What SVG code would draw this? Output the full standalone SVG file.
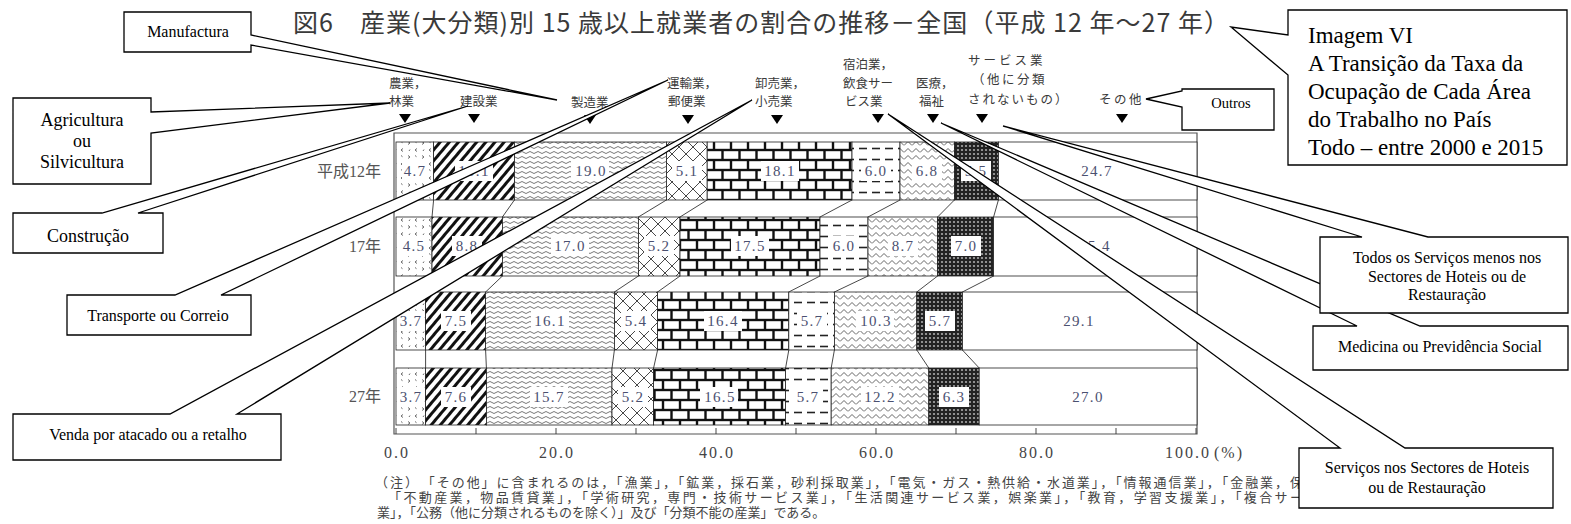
<svg xmlns="http://www.w3.org/2000/svg" width="1571" height="524" viewBox="0 0 1571 524">
<style>
.jp{font-family:"Noto Sans CJK JP","Noto Sans",sans-serif;fill:#3a3a3a}
.hd{font-size:12.5px}
.num{font-family:"Liberation Serif",serif;font-size:15px;fill:#4b5070;text-anchor:middle;letter-spacing:1.3px}
.ax{font-family:"Liberation Serif",serif;font-size:16px;fill:#444;text-anchor:middle;letter-spacing:2px}
.rl{font-family:"Liberation Serif","Noto Sans CJK JP",serif;font-size:16px;fill:#555;text-anchor:end}
.cell{stroke:#222;stroke-width:0.8}
.lb{fill:#fff}
.lnk{stroke:#333;stroke-width:0.9;fill:none}
.fr{stroke:#555;stroke-width:1.2;fill:none}
.co{fill:#fff;stroke:#000;stroke-width:1.3}
.ct{font-family:"Liberation Serif",serif;fill:#000;text-anchor:middle}
.tri{fill:#000}
.fn{font-size:13px;fill:#444}
</style>
<defs>
<pattern id="pAgri" width="14" height="14" patternUnits="userSpaceOnUse">
<rect width="14" height="14" fill="#fff"/>
<path d="M2 1.5l2 1.5-2 1.5M11 8.5l-2 1.5 2 1.5M9 1.5l1.5 1.2M4 9.5l-1 1.5" fill="none" stroke="#444" stroke-width="0.8"/>
</pattern>
<pattern id="pCons" width="7" height="7" patternUnits="userSpaceOnUse" patternTransform="rotate(40)">
<rect width="7" height="7" fill="#fff"/><rect width="3" height="7" fill="#111"/>
</pattern>
<pattern id="pMfg" width="8" height="5" patternUnits="userSpaceOnUse">
<rect width="8" height="5" fill="#fff"/><path d="M0 2.5q2-2 4 0t4 0" fill="none" stroke="#555" stroke-width="0.8"/>
</pattern>
<pattern id="pTrans" width="14" height="14" patternUnits="userSpaceOnUse">
<rect width="14" height="14" fill="#fff"/><path d="M0 0L14 14M14 0L0 14" stroke="#333" stroke-width="0.9"/>
</pattern>
<pattern id="pBrick" width="34" height="20" patternUnits="userSpaceOnUse">
<rect width="34" height="20" fill="#111"/>
<g fill="#fff"><rect x="1.2" y="1.2" width="14.6" height="7.6"/><rect x="18.2" y="1.2" width="14.6" height="7.6"/><rect x="9.7" y="11.2" width="14.6" height="7.6"/><rect x="26.7" y="11.2" width="7.3" height="7.6"/><rect x="0" y="11.2" width="7.3" height="7.6"/></g>
</pattern>
<pattern id="pHotel" width="13" height="11" patternUnits="userSpaceOnUse">
<rect width="13" height="11" fill="#fff"/><path d="M1 5.5h8" stroke="#222" stroke-width="1.6"/>
</pattern>
<pattern id="pMed" width="8" height="7" patternUnits="userSpaceOnUse">
<rect width="8" height="7" fill="#fff"/><path d="M0 5.5L4 1.5L8 5.5" fill="none" stroke="#555" stroke-width="0.9"/>
</pattern>
<pattern id="pSvc" width="4" height="4" patternUnits="userSpaceOnUse">
<rect width="4" height="4" fill="#222"/><circle cx="2" cy="2" r="1.1" fill="#aaa"/>
</pattern>
</defs>
<rect width="1571" height="524" fill="#fff"/>

<g id="title">
<text class="jp" x="293" y="32" font-size="25" fill="#333" textLength="936" lengthAdjust="spacing">図6　産業(大分類)別 15 歳以上就業者の割合の推移－全国（平成 12 年～27 年）</text>
</g>

<g id="header-labels" class="jp hd">
<text x="389" y="88">農業，</text><text x="389" y="106">林業</text>
<text x="460" y="106">建設業</text>
<text x="571" y="107">製造業</text>
<text x="667" y="88">運輸業，</text><text x="668" y="106">郵便業</text>
<text x="755" y="88">卸売業，</text><text x="755" y="106">小売業</text>
<text x="843" y="69">宿泊業，</text><text x="843" y="88">飲食サー</text><text x="845" y="106">ビス業</text>
<text x="916" y="88">医療，</text><text x="919" y="106">福祉</text>
<text x="968" y="65" letter-spacing="3">サービス業</text><text x="972" y="84" letter-spacing="2.5">（他に分類</text><text x="968" y="104" letter-spacing="2">されないもの）</text>
<text x="1099" y="104" letter-spacing="2.5">その他</text>
</g>
<g id="markers" class="tri">
<polygon points="399,114 411,114 405,123"/>
<polygon points="468,114 480,114 474,123"/>
<polygon points="584,115 596,115 590,124"/>
<polygon points="682,115 694,115 688,124"/>
<polygon points="771,115 783,115 777,124"/>
<polygon points="872,114 884,114 878,123"/>
<polygon points="927,114 939,114 933,123"/>
<polygon points="976,114 988,114 982,123"/>
<polygon points="1116,114 1128,114 1122,123"/>
</g>

<g id="chart-frame" class="fr">
<path d="M394 133H1197V434H394Z"/>
</g>

<g id="row-labels" class="rl">
<text x="381" y="177">平成12年</text>
<text x="381" y="252">17年</text>
<text x="381" y="402">27年</text>
</g>

<g id="row-2000" class="cell">
<rect x="396" y="142" width="37.6" height="58" fill="url(#pAgri)"/>
<rect x="433.6" y="142" width="80.8" height="58" fill="url(#pCons)"/>
<rect x="514.4" y="142" width="152" height="58" fill="url(#pMfg)"/>
<rect x="666.4" y="142" width="40.8" height="58" fill="url(#pTrans)"/>
<rect x="707.2" y="142" width="144.8" height="58" fill="url(#pBrick)"/>
<rect x="852" y="142" width="48" height="58" fill="url(#pHotel)"/>
<rect x="900" y="142" width="54.4" height="58" fill="url(#pMed)"/>
<rect x="954.4" y="142" width="44" height="58" fill="url(#pSvc)"/>
<rect x="998.4" y="142" width="198.6" height="58" fill="#fff"/>
</g>
<g id="row-2005" class="cell">
<rect x="396" y="217" width="36" height="59" fill="url(#pAgri)"/>
<rect x="432" y="217" width="70.4" height="59" fill="url(#pCons)"/>
<rect x="502.4" y="217" width="136" height="59" fill="url(#pMfg)"/>
<rect x="638.4" y="217" width="41.6" height="59" fill="url(#pTrans)"/>
<rect x="680" y="217" width="140" height="59" fill="url(#pBrick)"/>
<rect x="820" y="217" width="48" height="59" fill="url(#pHotel)"/>
<rect x="868" y="217" width="69.6" height="59" fill="url(#pMed)"/>
<rect x="937.6" y="217" width="56" height="59" fill="url(#pSvc)"/>
<rect x="993.6" y="217" width="203.4" height="59" fill="#fff"/>
</g>
<g id="row-2010" class="cell">
<rect x="396" y="292" width="29.6" height="58" fill="url(#pAgri)"/>
<rect x="425.6" y="292" width="60" height="58" fill="url(#pCons)"/>
<rect x="485.6" y="292" width="128.8" height="58" fill="url(#pMfg)"/>
<rect x="614.4" y="292" width="43.2" height="58" fill="url(#pTrans)"/>
<rect x="657.6" y="292" width="131.2" height="58" fill="url(#pBrick)"/>
<rect x="788.8" y="292" width="45.6" height="58" fill="url(#pHotel)"/>
<rect x="834.4" y="292" width="82.4" height="58" fill="url(#pMed)"/>
<rect x="916.8" y="292" width="45.6" height="58" fill="url(#pSvc)"/>
<rect x="962.4" y="292" width="234.6" height="58" fill="#fff"/>
</g>
<g id="row-2015" class="cell">
<rect x="396" y="368" width="29.6" height="57" fill="url(#pAgri)"/>
<rect x="425.6" y="368" width="60.8" height="57" fill="url(#pCons)"/>
<rect x="486.4" y="368" width="125.6" height="57" fill="url(#pMfg)"/>
<rect x="612" y="368" width="41.6" height="57" fill="url(#pTrans)"/>
<rect x="653.6" y="368" width="132" height="57" fill="url(#pBrick)"/>
<rect x="785.6" y="368" width="45.6" height="57" fill="url(#pHotel)"/>
<rect x="831.2" y="368" width="97.6" height="57" fill="url(#pMed)"/>
<rect x="928.8" y="368" width="50.4" height="57" fill="url(#pSvc)"/>
<rect x="979.2" y="368" width="217.8" height="57" fill="#fff"/>
</g>

<g id="value-labels">
<g class="lb">
<rect x="402" y="161" width="26" height="20"/><rect x="455" y="161" width="38" height="20"/><rect x="571" y="161" width="38" height="20"/><rect x="672" y="161" width="30" height="20"/><rect x="761" y="161" width="38" height="20"/><rect x="861" y="161" width="30" height="20"/><rect x="912" y="161" width="30" height="20"/><rect x="961" y="161" width="30" height="20"/>
<rect x="401" y="236" width="26" height="20"/><rect x="452" y="236" width="30" height="20"/><rect x="551" y="236" width="38" height="20"/><rect x="644" y="236" width="30" height="20"/><rect x="731" y="236" width="38" height="20"/><rect x="829" y="236" width="30" height="20"/><rect x="888" y="236" width="30" height="20"/><rect x="951" y="236" width="30" height="20"/>
<rect x="398" y="311" width="26" height="20"/><rect x="441" y="311" width="30" height="20"/><rect x="531" y="311" width="38" height="20"/><rect x="621" y="311" width="30" height="20"/><rect x="704" y="311" width="38" height="20"/><rect x="797" y="311" width="30" height="20"/><rect x="856" y="311" width="38" height="20"/><rect x="925" y="311" width="30" height="20"/>
<rect x="398" y="387" width="26" height="20"/><rect x="441" y="387" width="30" height="20"/><rect x="530" y="387" width="38" height="20"/><rect x="618" y="387" width="30" height="20"/><rect x="700" y="387" width="38" height="20"/><rect x="793" y="387" width="30" height="20"/><rect x="861" y="387" width="38" height="20"/><rect x="939" y="387" width="30" height="20"/>
</g>
<g class="num">
<text x="415" y="176">4.7</text><text x="474" y="176">10.1</text><text x="591" y="176">19.0</text><text x="687" y="176">5.1</text><text x="780" y="176">18.1</text><text x="876" y="176">6.0</text><text x="927" y="176">6.8</text><text x="976" y="176">5.5</text><text x="1097" y="176">24.7</text>
<text x="414" y="251">4.5</text><text x="467" y="251">8.8</text><text x="570" y="251">17.0</text><text x="659" y="251">5.2</text><text x="750" y="251">17.5</text><text x="844" y="251">6.0</text><text x="903" y="251">8.7</text><text x="966" y="251">7.0</text><text x="1095" y="251">25.4</text>
<text x="411" y="326">3.7</text><text x="456" y="326">7.5</text><text x="550" y="326">16.1</text><text x="636" y="326">5.4</text><text x="723" y="326">16.4</text><text x="812" y="326">5.7</text><text x="876" y="326">10.3</text><text x="940" y="326">5.7</text><text x="1079" y="326">29.1</text>
<text x="411" y="402">3.7</text><text x="456" y="402">7.6</text><text x="549" y="402">15.7</text><text x="633" y="402">5.2</text><text x="720" y="402">16.5</text><text x="808" y="402">5.7</text><text x="880" y="402">12.2</text><text x="954" y="402">6.3</text><text x="1088" y="402">27.0</text>
</g>
</g>

<g id="connectors" class="lnk">
<path d="M433.6 200L432 217M514.4 200L502.4 217M666.4 200L638.4 217M707.2 200L680 217M852 200L820 217M900 200L868 217M954.4 200L937.6 217M998.4 200L993.6 217"/>
<path d="M432 276L425.6 292M502.4 276L485.6 292M638.4 276L614.4 292M680 276L657.6 292M820 276L788.8 292M868 276L834.4 292M937.6 276L916.8 292M993.6 276L962.4 292"/>
<path d="M425.6 350L425.6 368M485.6 350L486.4 368M614.4 350L612 368M657.6 350L653.6 368M788.8 350L785.6 368M834.4 350L831.2 368M916.8 350L928.8 368M962.4 350L979.2 368"/>
</g>

<g id="axis">
<path class="lnk" d="M396 434v-6M476 434v-6M556 434v-6M636 434v-6M716 434v-6M796 434v-6M876 434v-6M956 434v-6M1036 434v-6M1116 434v-6M1196 434v-6"/>
<g class="ax">
<text x="397" y="458">0.0</text><text x="557" y="458">20.0</text><text x="717" y="458">40.0</text><text x="877" y="458">60.0</text><text x="1037" y="458">80.0</text><text x="1188" y="458">100.0</text><text x="1229" y="458">(%)</text>
</g>
</g>

<g id="footnote" class="jp fn">
<text x="375" y="487" textLength="928" lengthAdjust="spacing">（注）　「その他」に含まれるのは，「漁業」，「鉱業，採石業，砂利採取業」，「電気・ガス・熱供給・水道業」，「情報通信業」，「金融業，保</text>
<text x="388" y="502" textLength="915" lengthAdjust="spacing">「不動産業，物品賃貸業」，「学術研究，専門・技術サービス業」，「生活関連サービス業，娯楽業」，「教育，学習支援業」，「複合サー</text>
<text x="377" y="517">業」，「公務（他に分類されるものを除く）」及び「分類不能の産業」である。</text>
</g>

<g id="callout-manufactura">
<path class="co" d="M124 12H251V35L557 100L251 45V52H124Z"/>
<text class="ct" x="188" y="37" font-size="16">Manufactura</text>
</g>
<g id="callout-agricultura">
<path class="co" d="M13 98H151V112L390 103L151 133V184H13Z"/>
<text class="ct" x="82" y="126" font-size="18">Agricultura</text>
<text class="ct" x="82" y="147" font-size="18">ou</text>
<text class="ct" x="82" y="168" font-size="18">Silvicultura</text>
</g>
<g id="callout-construcao">
<path class="co" d="M13 213H102L468 106L138 213H163V253H13Z"/>
<text class="ct" x="88" y="242" font-size="18">Construção</text>
</g>
<g id="callout-transporte">
<path class="co" d="M67 295H175L668 80L221 295H251V335H67Z"/>
<text class="ct" x="158" y="321" font-size="16">Transporte ou Correio</text>
</g>
<g id="callout-venda">
<path class="co" d="M13 414H170L752 100L237 414H281V460H13Z"/>
<text class="ct" x="148" y="440" font-size="16">Venda por atacado ou a retalho</text>
</g>
<g id="callout-outros">
<path class="co" d="M1182 89H1274V130H1182V107L1146 99L1182 91Z"/>
<text class="ct" x="1231" y="108" font-size="14.5">Outros</text>
</g>
<g id="callout-imagem">
<path class="co" d="M1288 10H1567V165H1288V75L1231 27L1288 35Z"/>
<g class="ct" font-size="23" style="text-anchor:start">
<text x="1308" y="43">Imagem VI</text>
<text x="1308" y="71">A Transição da Taxa da</text>
<text x="1308" y="99">Ocupação de Cada Área</text>
<text x="1308" y="127">do Trabalho no País</text>
<text x="1308" y="155">Todo – entre 2000 e 2015</text>
</g>
</g>
<g id="callout-servicos-hoteis">
<path class="co" d="M1299 448H1340L888 114L1405 448H1553V508H1299Z"/>
<text class="ct" x="1427" y="473" font-size="16">Serviços nos Sectores de Hoteis</text>
<text class="ct" x="1427" y="493" font-size="16">ou de Restauração</text>
</g>
<g id="callout-medicina">
<path class="co" d="M1313 326H1357L941 123L1420 326H1568V370H1313Z"/>
<text class="ct" x="1440" y="352" font-size="16">Medicina ou Previdência Social</text>
</g>
<g id="callout-todos">
<path class="co" d="M1320 237H1362L1003 126L1428 237H1568V313H1320Z"/>
<text class="ct" x="1447" y="263" font-size="16">Todos os Serviços menos nos</text>
<text class="ct" x="1447" y="282" font-size="16">Sectores de Hoteis ou de</text>
<text class="ct" x="1447" y="300" font-size="16">Restauração</text>
</g>
</svg>
